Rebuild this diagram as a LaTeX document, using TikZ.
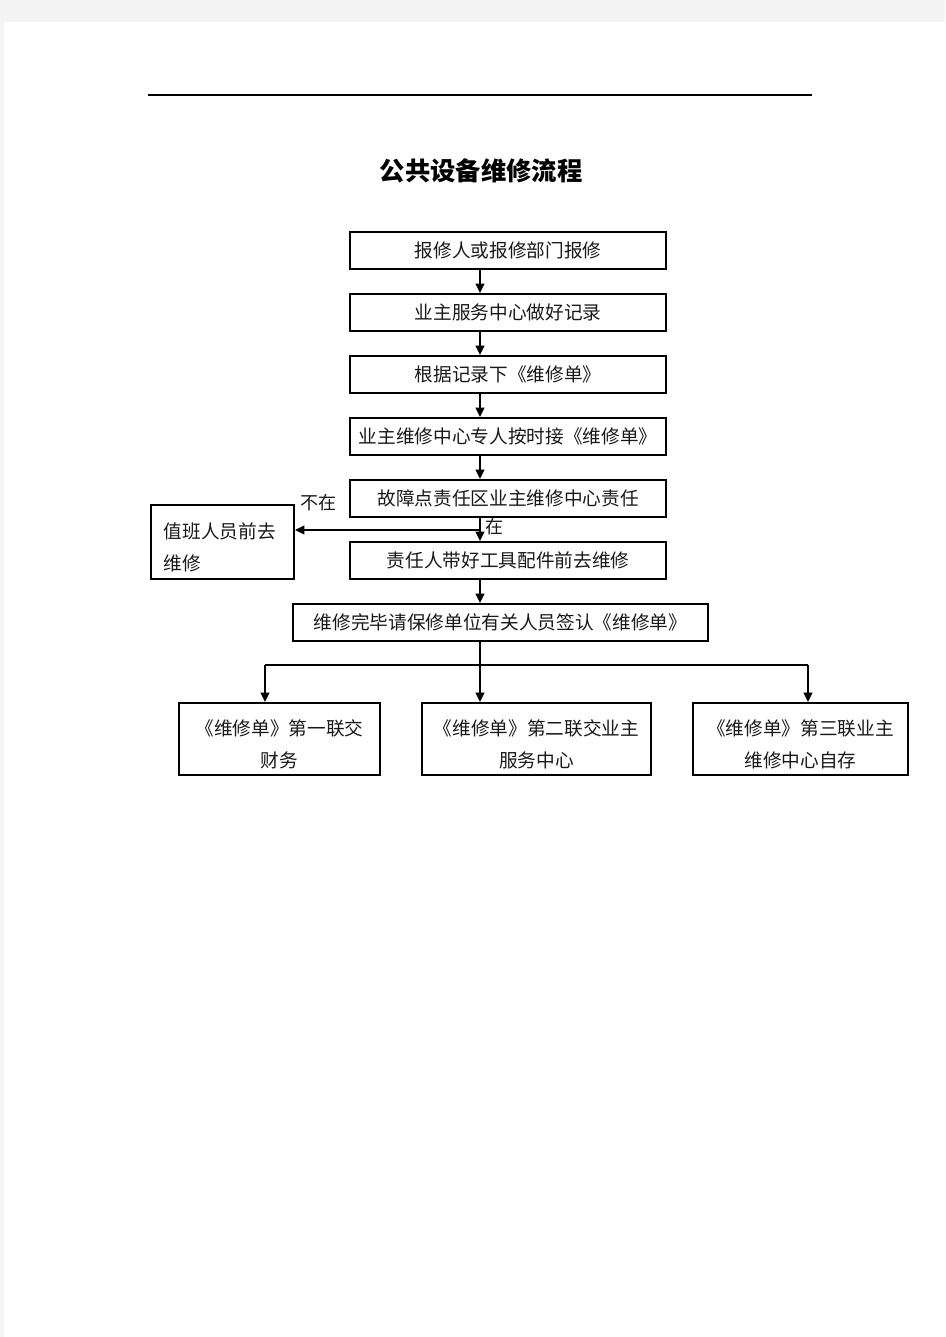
\documentclass[tikz,border=0pt]{standalone}
\usepackage{fontspec}
\newfontfamily\cjk{Noto Sans CJK SC}
\usetikzlibrary{arrows.meta}
\definecolor{pagegray}{RGB}{244,244,244}
\definecolor{ink}{RGB}{25,25,25}
\newcommand{\dnstrut}{\rule{0pt}{19.5pt}}
\begin{document}
\begin{tikzpicture}[x=0.75pt,y=-0.75pt,
  box/.style={draw=black, line width=1.5pt, inner sep=0pt, text=ink,
    font=\cjk\fontsize{14pt}{24pt}\selectfont, align=center},
  flowbox/.style={box, minimum width=237pt, minimum height=27.75pt},
  lbl/.style={inner sep=0pt, text=ink, font=\cjk\fontsize{13.5pt}{16pt}\selectfont},
  arr/.style={line width=1.5pt, -{Triangle[length=7pt,width=6.5pt]}},
  bar/.style={line width=2.2pt}]
\useasboundingbox (0,0) rectangle (945,1337);
\fill[pagegray] (0,0) rectangle (945,1337);
\fill[white] (4,22) rectangle (945,1337);
\draw[line width=1pt] (148,95) -- (812,95);
\node[inner sep=0pt, font=\cjk\bfseries\fontsize{19pt}{22pt}\selectfont] (title) at (481,171) {公共设备维修流程};

\node[flowbox] (b1) at (508,250.5) {报修人或报修部门报修};
\node[flowbox] (b2) at (508,312.5) {业主服务中心做好记录};
\node[flowbox] (b3) at (508,374.5) {根据记录下《维修单》};
\node[flowbox] (b4) at (508,436.5) {业主维修中心专人按时接《维修单》};
\node[flowbox] (b5) at (508,498.5) {故障点责任区业主维修中心责任};
\node[flowbox] (b6) at (508,560.5) {责任人带好工具配件前去维修};
\node[box, minimum width=311.25pt, minimum height=27.75pt] (b7) at (500.5,622.5) {维修完毕请保修单位有关人员签认《维修单》};
\node[box, minimum width=107.25pt, minimum height=55.5pt, text width=88pt, align=left] (lb) at (222.5,542) {\dnstrut 值班人员前去\\维修};

\node[box, minimum width=150.75pt, minimum height=54pt] (ba) at (279.5,739) {\dnstrut《维修单》第一联交\\财务};
\node[box, minimum width=171.75pt, minimum height=54pt] (bb) at (536.5,739) {\dnstrut《维修单》第二联交业主\\服务中心};
\node[box, minimum width=161.25pt, minimum height=54pt] (bc) at (800.5,739) {\dnstrut《维修单》第三联业主\\维修中心自存};

\node[lbl] (nz) at (318,503) {不在};
\node[lbl] (zz) at (494,527) {在};

\coordinate (ax) at (480,0);
\draw[arr] (ax |- b1.south) -- (ax |- b2.north);
\draw[arr] (ax |- b2.south) -- (ax |- b3.north);
\draw[arr] (ax |- b3.south) -- (ax |- b4.north);
\draw[arr] (ax |- b4.south) -- (ax |- b5.north);
\draw[arr] (ax |- b5.south) -- (ax |- b6.north);
\coordinate (j) at (480,530);
\draw[arr] (j) -- (j -| lb.east);
\draw[arr] (ax |- b6.south) -- (ax |- b7.north);

\coordinate (hm) at (480,665);
\coordinate (hl) at (265,665);
\coordinate (hr) at (808,665);
\draw[line width=1pt] (ax |- b7.south) -- (hm);
\draw[bar] (hl) -- (hr);
\draw[arr] (hl) -- (hl |- ba.north);
\draw[arr] (hm) -- (hm |- bb.north);
\draw[arr] (hr) -- (hr |- bc.north);
\end{tikzpicture}
\end{document}
